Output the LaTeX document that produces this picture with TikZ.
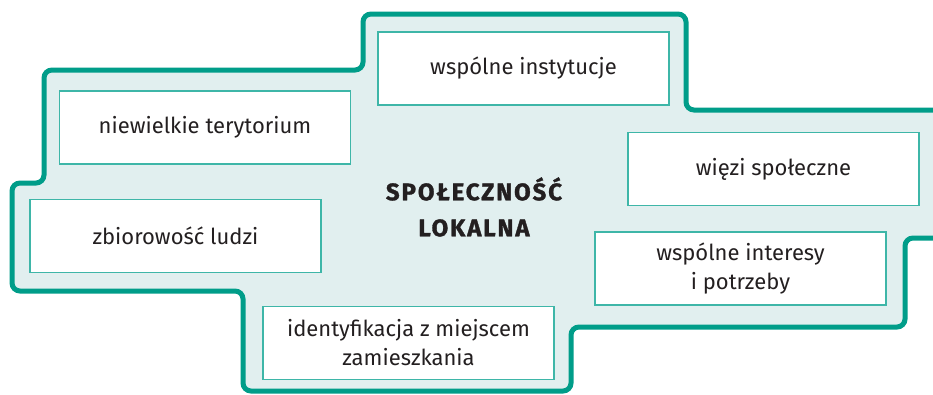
\documentclass[tikz,border=0pt]{standalone}
\usepackage{fontspec}
\setmainfont{Fira Sans}
\newfontfamily\headfont[LetterSpace=8, BoldFeatures={FakeBold=1.3}]{Fira Sans}
\definecolor{outline}{RGB}{0,157,137}
\definecolor{areafill}{RGB}{225,239,239}
\definecolor{boxline}{RGB}{62,182,168}
\definecolor{txt}{RGB}{35,31,32}
\begin{document}
\begin{tikzpicture}[x=1pt, y=-1pt,
		field/.style={draw=boxline, line width=1.2pt, fill=white, minimum width=291pt, minimum height=73pt, inner sep=0pt, align=center, text=txt, font=\fontsize{22}{29}\selectfont},
		headline/.style={align=center, text=txt, font=\headfont\fontsize{24}{36}\selectfont\bfseries}]
		% page
		\useasboundingbox (0,0) rectangle (933,394);
		\clip (0,0) rectangle (933,394);
		
		% outline of the area
		\draw[line width=5pt, draw=outline, fill=areafill, rounded corners=8pt]
			(520,14) -- (686,14) -- (686,110) -- (950,110) -- (950,238) -- (905,238)
			-- (905,327) -- (571,327) -- (571,391) -- (243,391) -- (243,291)
			-- (12,291) -- (12,183) -- (44,183) -- (44,70) -- (363,70) -- (363,14) -- cycle;
		
		% features
		\node[field] (terytorium) at (205,127.5) {niewielkie terytorium};
		\node[field] (instytucje) at (523.5,68.5) {wspólne instytucje};
		\node[field] (wiezi) at (773.5,169) {więzi społeczne};
		\node[field] (ludzie) at (175.5,236) {zbiorowość ludzi};
		\node[field] (identyfikacja) at (408.5,343) {identyfikacja z miejscem\\zamieszkania};
		\node[field] (interesy) at (740.5,268.5) {wspólne interesy\\i potrzeby};
		
		% centre
		\node[headline] (spolecznosc) at (474,207) {SPOŁECZNOŚĆ\\LOKALNA};
	\end{tikzpicture}
\end{document}
